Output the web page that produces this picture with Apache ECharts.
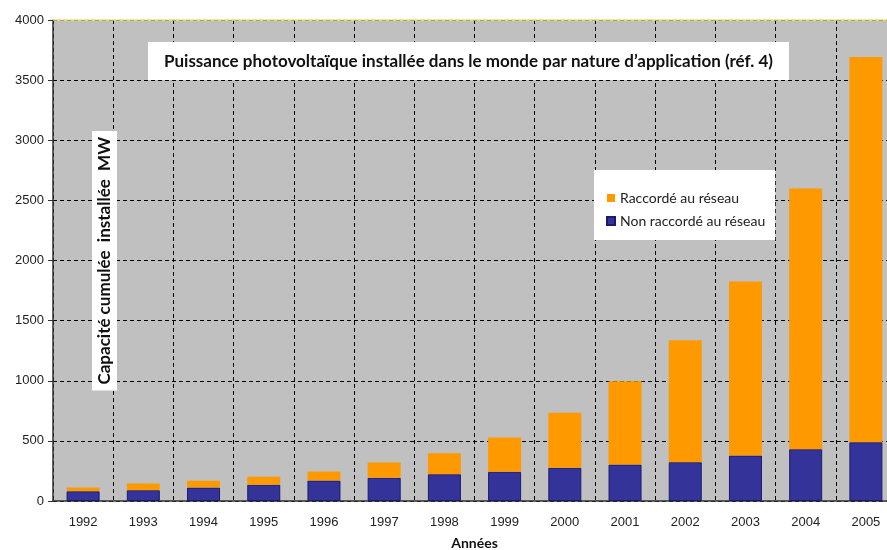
<!DOCTYPE html>
<html><head><meta charset="utf-8">
<script src="https://cdn.jsdelivr.net/npm/echarts@6/dist/echarts.min.js"></script>
<style>html,body{margin:0;padding:0;background:#fff}#c{width:887px;height:550px}</style>
</head><body><div id="c"></div>
<script>
var years = ['1992','1993','1994','1995','1996','1997','1998','1999','2000','2001','2002','2003','2004','2005'];
var nonRaccorde = [81, 90, 112, 135, 170, 193, 223, 243, 276, 303, 323, 378, 431, 489];
var raccorde = [31, 56, 56, 66, 75, 127, 174, 285, 457, 693, 1014, 1447, 2168, 3203];
var yTicks = {min: 0, max: 4000, interval: 500};
var titleText = 'Puissance photovoltaïque installée dans le monde par nature d\u2019application (réf. 4)';
var yName = 'Capacité cumulée  installée  MW';
var xName = 'Années';

var dashed = {color: '#000', type: [4, 3], width: 1};
var chart = echarts.init(document.getElementById('c'));
chart.setOption({
  animation: false,
  textStyle: {fontFamily: 'Liberation Sans'},
  title: {
    text: titleText, left: 148, top: 42,
    backgroundColor: '#fff', padding: [11, 16, 10, 16],
    textStyle: {fontFamily: 'Lato', fontWeight: 'bold', fontSize: 17, color: '#111'}
  },
  legend: {
    orient: 'vertical', left: 594, top: 170,
    data: ['Raccordé au réseau', 'Non raccordé au réseau'],
    backgroundColor: '#fff', padding: [21, 10, 12, 12], itemGap: 9,
    itemWidth: 8, itemHeight: 8, icon: 'rect',
    textStyle: {fontFamily: 'Lato', fontSize: 14, color: '#222'}
  },
  grid: {left: 53, width: 843, top: 20, bottom: 49, outerBoundsMode: 'none', containLabel: false,
         show: true, backgroundColor: '#c0c0c0', borderWidth: 0},
  xAxis: [{
    type: 'category', data: years,
    axisLine: {lineStyle: {color: '#333', width: 1.5}},
    axisTick: {length: 5, lineStyle: {color: '#333'}},
    axisLabel: {fontSize: 13, color: '#222', margin: 15},
    splitLine: {show: true, lineStyle: dashed},
    name: xName, nameLocation: 'middle', nameGap: 35,
    nameTextStyle: {fontFamily: 'Lato', fontWeight: 'bold', fontSize: 14, color: '#111'}
  }, {
    type: 'category', data: years, position: 'top',
    axisLine: {lineStyle: {color: '#f0e070', width: 1.5}},
    axisTick: {show: false}, axisLabel: {show: false}
  }],
  yAxis: {
    type: 'value', min: yTicks.min, max: yTicks.max, interval: yTicks.interval,
    axisLine: {show: true, lineStyle: {color: '#333', width: 1.5}},
    axisTick: {show: true, length: 5, lineStyle: {color: '#333'}},
    axisLabel: {fontSize: 13, color: '#222', margin: 9, formatter: function (v) { return String(v); }},
    splitLine: {show: true, lineStyle: dashed}
  },
  graphic: [{
    type: 'text', left: 92, top: 131, rotation: Math.PI / 2, z: 100,
    style: {
      text: yName, font: 'bold 17px Lato', fill: '#111',
      backgroundColor: '#fff', padding: [4, 6, 4, 6]
    }
  }],
  series: [{
    name: 'Non raccordé au réseau', type: 'bar', stack: 't', data: nonRaccorde,
    barWidth: 33, itemStyle: {color: '#333399', borderColor: '#1a1a70', borderWidth: 1}
  }, {
    name: 'Raccordé au réseau', type: 'bar', stack: 't', data: raccorde,
    barWidth: 33, itemStyle: {color: '#ff9900'}
  }]
});
</script></body></html>
